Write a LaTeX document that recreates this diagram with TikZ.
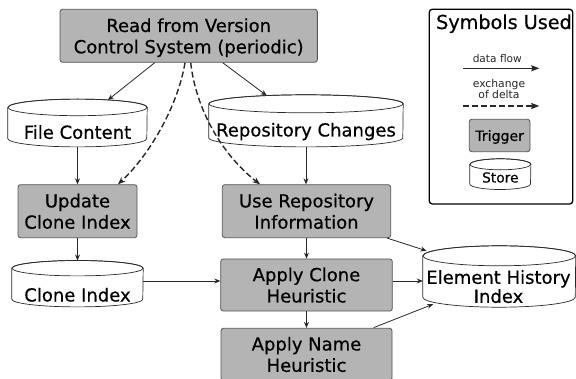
\documentclass[tikz,border=0pt]{standalone}
\usepackage{fontspec}
\setmainfont{DejaVu Sans}
\newfontfamily\heavyfont[FakeBold=0.5]{DejaVu Sans}
\usetikzlibrary{calc,arrows.meta}
\definecolor{boxgray}{RGB}{180,180,180}
\definecolor{edgegray}{RGB}{85,85,85}
\definecolor{ink}{RGB}{40,40,40}
\newcommand\drawcyl[3]{%
  \draw[cylline] ($(#1.north west)+(0,-#3)$) -- ($(#1.south west)+(0,#3)$)
    arc[start angle=180,end angle=360,x radius=#2pt,y radius=#3pt]
    -- ($(#1.north east)+(0,-#3)$)
    arc[start angle=0,end angle=180,x radius=#2pt,y radius=#3pt] -- cycle;
  \draw[cylline,fill=none] ($(#1.north)+(0,-#3)$) ellipse[x radius=#2pt,y radius=#3pt];
}
\tikzset{
  trig/.style={draw=edgegray, fill=boxgray, line width=0.8pt, rounded corners=2.5pt,
    inner sep=0pt, align=center, text depth=0pt, font=\heavyfont\fontsize{18}{21.3}\selectfont},
  storebox/.style={inner sep=0pt, draw=none},
  lbl/.style={inner sep=0pt, anchor=south, text depth=0pt, align=center,
    font=\heavyfont\fontsize{18}{21.3}\selectfont},
  flow/.style={draw=ink, line width=0.8pt, -{Stealth[length=6pt,width=5pt]}},
  deltaflow/.style={draw=ink, line width=1.4pt, dash pattern=on 6pt off 3pt,
    -{Stealth[length=7.5pt,width=6pt]}},
  legarrow/.style={-{Stealth[length=8pt,width=6pt,inset=1pt]}},
  cylline/.style={draw=ink, line width=0.7pt, fill=white},
}
\begin{document}
\begin{tikzpicture}[x=1pt,y=1pt]
\useasboundingbox (0,0) rectangle (576,378);
\fill[white] (0,0) rectangle (576,378);

% legend frame
\node[draw=black, line width=1.3pt, rounded corners=3pt, minimum width=143.4pt,
  minimum height=194.7pt, inner sep=0pt] (legend) at (501,271.35) {};

% trigger boxes
\node[trig, minimum width=257.3pt, minimum height=53pt] (read) at (188.7,342.2)
  {Read from Version\\Control System (periodic)};
\node[trig, minimum width=119pt, minimum height=53pt] (upd) at (77.5,166.8)
  {Update\\Clone Index};
\node[trig, minimum width=168.4pt, minimum height=53pt] (use) at (306.5,166.8)
  {Use Repository\\Information};
\node[trig, minimum width=171.6pt, minimum height=52pt] (acl) at (306.5,93)
  {Apply Clone\\Heuristic};
\node[trig, minimum width=171pt, minimum height=52pt] (anm) at (306.5,23.7)
  {Apply Name\\Heuristic};

% stores
\node[storebox, minimum width=139pt, minimum height=47.4pt] (fc) at (77.5,255) {};
\drawcyl{fc}{69.5}{8.3}
\node[lbl] (fct) at (77.5,239) {File Content};

\node[storebox, minimum width=194pt, minimum height=51.7pt] (rc) at (306,257.15) {};
\drawcyl{rc}{97}{9}
\node[lbl] (rct) at (306,241.3) {Repository Changes};

\node[storebox, minimum width=131pt, minimum height=46pt] (ci) at (77.5,94.3) {};
\drawcyl{ci}{65.5}{7.7}
\node[lbl] (cit) at (77.5,76.3) {Clone Index};

\node[storebox, minimum width=152.5pt, minimum height=61pt] (eh) at (499.25,101.5) {};
\drawcyl{eh}{76.25}{10}
\node[lbl, font=\heavyfont\fontsize{18}{19}\selectfont] (eht) at (498.5,75) {Element History\\Index};

% legend content
\node[anchor=base, inner sep=0pt, font=\heavyfont\fontsize{19.2}{23}\selectfont] (ltitle) at (504,349) {Symbols Used};
\node[anchor=base, inner sep=0pt, font=\fontsize{10.6}{12}\selectfont, text=ink] (ldf) at (497.3,315.3) {data flow};
\coordinate (df1) at (463.3,309.7);
\coordinate (df2) at (539.3,309.7);
\draw[flow, line width=1pt, legarrow] (df1) -- (df2);
\node[lbl, font=\fontsize{10.8}{11.7}\selectfont, text=ink] (lex) at (499,279) {exchange\\of delta};
\coordinate (dd1) at (463.3,272);
\coordinate (dd2) at (539.3,272);
\draw[deltaflow, line width=1.6pt, legarrow] (dd1) -- (dd2);
\node[trig, minimum width=60.7pt, minimum height=32.4pt, font=\heavyfont\fontsize{14.1}{16}\selectfont] (ltrig) at (499.65,242.5) {Trigger};
\node[storebox, minimum width=60.7pt, minimum height=30.3pt] (lst) at (500.35,203.85) {};
\drawcyl{lst}{30.35}{5.5}
\node[lbl, font=\heavyfont\fontsize{13.8}{16}\selectfont] (lstt) at (500.35,195.3) {Store};

% connectors
\draw[flow] ($(read.south)+(-34,0)$) -- ($(fc.north)+(30.5,-0.8)$);
\draw[flow] ($(read.south)+(34,0)$) -- ($(rc.north)+(-39.3,-0.8)$);
\draw[deltaflow] ($(read.south)+(-3.7,0)$) .. controls +(-7,-42.7) and +(32,29.7) .. ($(upd.north)+(40.5,0)$);
\draw[deltaflow] ($(read.south)+(2,0)$) .. controls +(5.3,-47) and +(-38,29.7) .. ($(use.north)+(-46.5,0)$);
\draw[flow] (fc.south) -- (upd.north);
\draw[flow] (rc.south) -- (rc.south |- use.north);
\draw[flow] (upd.south) -- (ci.north);
\coordinate (cie) at ($(ci.east)+(0,2.7)$);
\draw[flow] (cie) -- (cie -| acl.west);
\draw[flow] (use.south) -- (acl.north);
\draw[flow] (acl.south) -- (anm.north);
\draw[flow] ($(use.south east)+(-4,0)$) -- ($(eh.north west)+(3.7,-5)$);
\coordinate (ace) at ($(acl.east)+(0,4)$);
\draw[flow] (ace) -- (ace -| eh.west);
\draw[flow] ($(anm.north east)+(-18.7,0.3)$) -- ($(eh.south west)+(10.3,3)$);
\end{tikzpicture}
\end{document}
